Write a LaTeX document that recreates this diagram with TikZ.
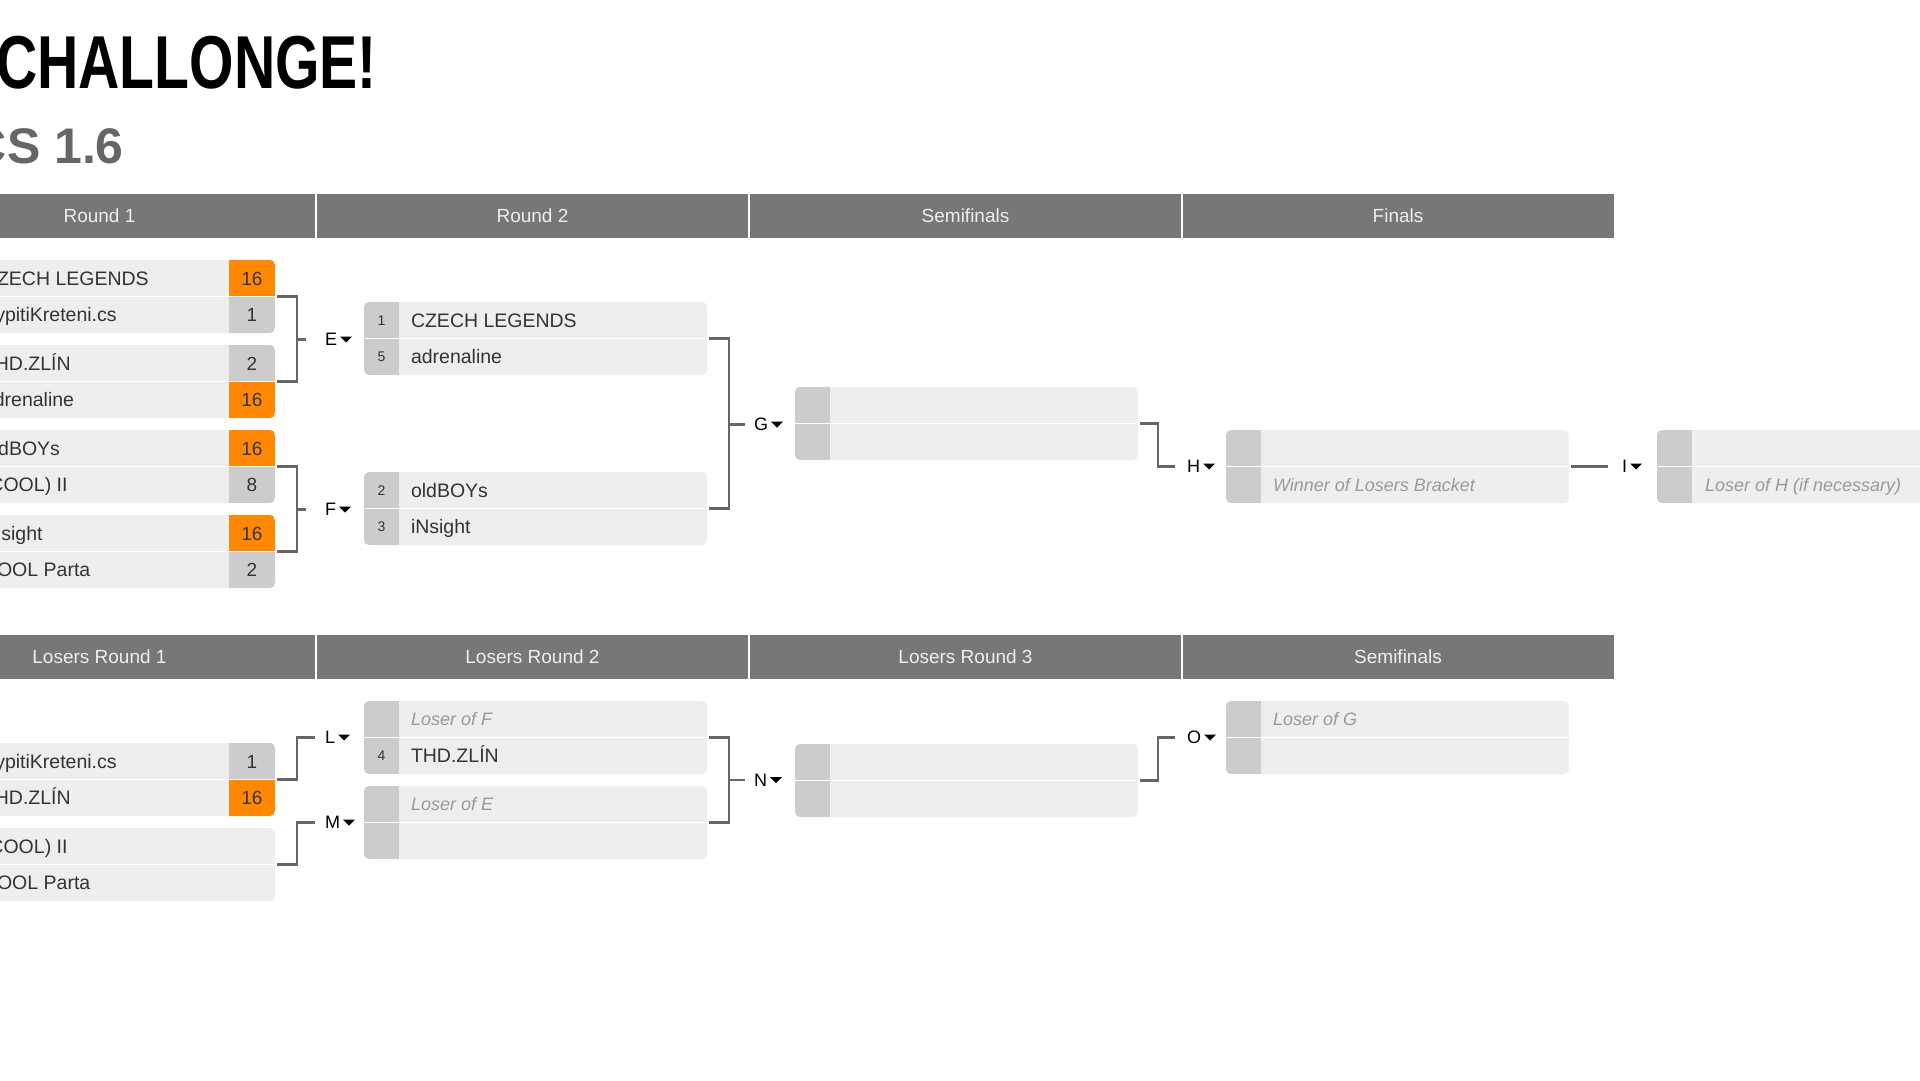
\documentclass[tikz,border=0pt]{standalone}
\usepackage{fontspec}
\setmainfont{Liberation Sans}
\definecolor{hdrgray}{HTML}{777777}
\definecolor{hdrtxt}{HTML}{EEEEEE}
\definecolor{rowbg}{HTML}{EEEEEE}
\definecolor{cellgray}{HTML}{CCCCCC}
\definecolor{win}{HTML}{FF8800}
\definecolor{conncol}{HTML}{666666}
\definecolor{txt}{HTML}{333333}
\definecolor{ghost}{HTML}{999999}
\definecolor{subt}{HTML}{666666}
\tikzset{
  every node/.style={inner sep=0pt, outer sep=0pt},
  matchbg/.style={fill=rowbg, rounded corners=5pt, minimum width=343pt, minimum height=73pt},
  hdrcell/.style={fill=hdrgray, minimum width=431pt, minimum height=44pt, text=hdrtxt, font=\fontsize{19}{19}\selectfont},
  team/.style={anchor=west, text=txt, font=\fontsize{19.5}{19.5}\selectfont, text height=14pt, text depth=0pt},
  ghosttxt/.style={anchor=west, text=ghost, font=\fontsize{18}{18}\selectfont\itshape, text height=12.9pt, text depth=0pt},
  seednum/.style={text=txt, font=\fontsize{14}{14}\selectfont, text height=10pt, text depth=0pt},
  scorenum/.style={text=txt, font=\fontsize{19}{19}\selectfont, text height=13.6pt, text depth=0pt},
  blabel/.style={anchor=west, text=black, font=\fontsize{18}{18}\selectfont, text height=12.9pt, text depth=0pt},
  conn/.style={draw=conncol, line width=2.5pt},
  sepline/.style={draw=white, line width=1.5pt},
}
% match background node: name, left x, top y
\newcommand{\MBox}[3]{\node[matchbg] (#1) at ({#2+171.5},{#3+36.5}) {};}
\newcommand{\MClip}[1]{\clip[rounded corners=5pt] (#1.south west) rectangle (#1.north east);}
\newcommand{\SeedCol}[1]{\begin{scope}\MClip{#1}\fill[cellgray] (#1.south west) rectangle ([xshift=35pt]#1.north west);\end{scope}}
\newcommand{\ScoreCol}[3]{\begin{scope}\MClip{#1}\fill[#2] ([xshift=-46pt]#1.north east) rectangle (#1.east);\fill[#3] ([xshift=-46pt]#1.east) rectangle (#1.south east);\end{scope}}
\newcommand{\Sep}[1]{\draw[sepline] (#1.west) -- (#1.east);}
\newcommand{\Tri}[1]{\fill[black] ([xshift=3pt,yshift=3pt]#1.east) -- ++(12,0) -- ++(-6,6) -- cycle;}
\begin{document}
\begin{tikzpicture}[x=1pt,y=-1pt]
\useasboundingbox (0,0) rectangle (1920,1080);
\fill[white] (0,0) rectangle (1920,1080);
\clip (0,0) rectangle (1920,1080);

% titles
\node[anchor=base west, font=\fontsize{75}{75}\selectfont\bfseries] (title) at (-4,88) {\scalebox{0.762}[1]{CHALLONGE!}};
\node[anchor=base west, text=subt, font=\fontsize{50}{50}\selectfont\bfseries] (game) at (-29,163) {CS 1.6};

% headers winners
\node[hdrcell] (hW1) at (99.5,216) {Round 1};
\node[hdrcell] (hW2) at (532.5,216) {Round 2};
\node[hdrcell] (hW3) at (965.5,216) {Semifinals};
\node[hdrcell] (hW4) at (1398,216) {Finals};
% headers losers
\node[hdrcell] (hL1) at (99.5,657) {Losers Round 1};
\node[hdrcell] (hL2) at (532.5,657) {Losers Round 2};
\node[hdrcell] (hL3) at (965.5,657) {Losers Round 3};
\node[hdrcell] (hL4) at (1398,657) {Semifinals};

% ---------- Winners round 1
\MBox{A}{-68}{260}\ScoreCol{A}{win}{cellgray}\Sep{A}
\node[team] (A1) at ([xshift=51pt,yshift=18.25pt]A.west) {CZECH LEGENDS};
\node[team] (A2) at ([xshift=51pt,yshift=-18.25pt]A.west) {VypitiKreteni.cs};
\node[scorenum] (A1s) at ([xshift=-23pt,yshift=18.25pt]A.east) {16};
\node[scorenum] (A2s) at ([xshift=-23pt,yshift=-18.25pt]A.east) {1};

\MBox{B}{-68}{345}\ScoreCol{B}{cellgray}{win}\Sep{B}
\node[team] (B1) at ([xshift=51pt,yshift=18.25pt]B.west) {THD.ZLÍN};
\node[team] (B2) at ([xshift=51pt,yshift=-18.25pt]B.west) {adrenaline};
\node[scorenum] (B1s) at ([xshift=-23pt,yshift=18.25pt]B.east) {2};
\node[scorenum] (B2s) at ([xshift=-23pt,yshift=-18.25pt]B.east) {16};

\MBox{C}{-68}{430}\ScoreCol{C}{win}{cellgray}\Sep{C}
\node[team] (C1) at ([xshift=51pt,yshift=18.25pt]C.west) {oldBOYs};
\node[team] (C2) at ([xshift=51pt,yshift=-18.25pt]C.west) {(COOL) II};
\node[scorenum] (C1s) at ([xshift=-23pt,yshift=18.25pt]C.east) {16};
\node[scorenum] (C2s) at ([xshift=-23pt,yshift=-18.25pt]C.east) {8};

\MBox{D}{-68}{515}\ScoreCol{D}{win}{cellgray}\Sep{D}
\node[team] (D1) at ([xshift=51pt,yshift=18.25pt]D.west) {iNsight};
\node[team] (D2) at ([xshift=51pt,yshift=-18.25pt]D.west) {COOL Parta};
\node[scorenum] (D1s) at ([xshift=-23pt,yshift=18.25pt]D.east) {16};
\node[scorenum] (D2s) at ([xshift=-23pt,yshift=-18.25pt]D.east) {2};

% ---------- Winners round 2
\MBox{RA}{364}{302}\SeedCol{RA}\Sep{RA}
\node[seednum] (RA1n) at ([xshift=17.5pt,yshift=18.25pt]RA.west) {1};
\node[seednum] (RA2n) at ([xshift=17.5pt,yshift=-18.25pt]RA.west) {5};
\node[team] (RA1) at ([xshift=47pt,yshift=18.25pt]RA.west) {CZECH LEGENDS};
\node[team] (RA2) at ([xshift=47pt,yshift=-18.25pt]RA.west) {adrenaline};

\MBox{RB}{364}{472}\SeedCol{RB}\Sep{RB}
\node[seednum] (RB1n) at ([xshift=17.5pt,yshift=18.25pt]RB.west) {2};
\node[seednum] (RB2n) at ([xshift=17.5pt,yshift=-18.25pt]RB.west) {3};
\node[team] (RB1) at ([xshift=47pt,yshift=18.25pt]RB.west) {oldBOYs};
\node[team] (RB2) at ([xshift=47pt,yshift=-18.25pt]RB.west) {iNsight};

% ---------- Winners semifinal, finals, grand final
\MBox{S}{795}{387}\SeedCol{S}\Sep{S}
\MBox{FI}{1226}{430}\SeedCol{FI}\Sep{FI}
\node[ghosttxt] (FI2) at ([xshift=47pt,yshift=-18.25pt]FI.west) {Winner of Losers Bracket};
\MBox{GF}{1657}{430}\SeedCol{GF}\Sep{GF}
\node[ghosttxt] (GF2) at ([xshift=48pt,yshift=-18.25pt]GF.west) {Loser of H (if necessary)};

% ---------- Losers round 1
\MBox{LA}{-68}{743}\ScoreCol{LA}{cellgray}{win}\Sep{LA}
\node[team] (LA1) at ([xshift=51pt,yshift=18.25pt]LA.west) {VypitiKreteni.cs};
\node[team] (LA2) at ([xshift=51pt,yshift=-18.25pt]LA.west) {THD.ZLÍN};
\node[scorenum] (LA1s) at ([xshift=-23pt,yshift=18.25pt]LA.east) {1};
\node[scorenum] (LA2s) at ([xshift=-23pt,yshift=-18.25pt]LA.east) {16};

\MBox{LB}{-68}{828}\Sep{LB}
\node[team] (LB1) at ([xshift=51pt,yshift=18.25pt]LB.west) {(COOL) II};
\node[team] (LB2) at ([xshift=51pt,yshift=-18.25pt]LB.west) {COOL Parta};

% ---------- Losers round 2
\MBox{LC}{364}{701}\SeedCol{LC}\Sep{LC}
\node[ghosttxt] (LC1) at ([xshift=47pt,yshift=18.25pt]LC.west) {Loser of F};
\node[seednum] (LC2n) at ([xshift=17.5pt,yshift=-18.25pt]LC.west) {4};
\node[team] (LC2) at ([xshift=47pt,yshift=-18.25pt]LC.west) {THD.ZLÍN};

\MBox{LD}{364}{786}\SeedCol{LD}\Sep{LD}
\node[ghosttxt] (LD1) at ([xshift=47pt,yshift=18.25pt]LD.west) {Loser of E};

% ---------- Losers round 3 and semifinal
\MBox{LE}{795}{744}\SeedCol{LE}\Sep{LE}
\MBox{LF}{1226}{701}\SeedCol{LF}\Sep{LF}
\node[ghosttxt] (LF1) at ([xshift=47pt,yshift=18.25pt]LF.west) {Loser of G};

% ---------- connectors and labels
\coordinate (Ek) at (297,339.5); \coordinate (Eend) at (306,339.5);
\draw[conn] ([xshift=2pt]A.east) -| (Ek) |- ([xshift=2pt]B.east);
\draw[conn] (Ek) -- (Eend);
\node[blabel] (Elab) at (325,339.5) {E}; \Tri{Elab}

\coordinate (Fk) at (297,509.5); \coordinate (Fend) at (306,509.5);
\draw[conn] ([xshift=2pt]C.east) -| (Fk) |- ([xshift=2pt]D.east);
\draw[conn] (Fk) -- (Fend);
\node[blabel] (Flab) at (325,509.5) {F}; \Tri{Flab}

\coordinate (Gk) at (729,424.5); \coordinate (Gend) at (745,424.5);
\draw[conn] ([xshift=2pt]RA.east) -| (Gk) |- ([xshift=2pt]RB.east);
\draw[conn] (Gk) -- (Gend);
\node[blabel] (Glab) at (754,424.5) {G}; \Tri{Glab}

\coordinate (Hk) at (1158,466.5); \coordinate (Hend) at (1175,466.5);
\draw[conn] ([xshift=2pt]S.east) -| (Hk) -- (Hend);
\node[blabel] (Hlab) at (1187,466.5) {H}; \Tri{Hlab}

\coordinate (Iend) at (1608,466.5);
\draw[conn] ([xshift=2pt]FI.east) -- (Iend);
\node[blabel] (Ilab) at (1622,466.5) {I}; \Tri{Ilab}

\coordinate (Lk) at (297,737.5); \coordinate (Lend) at (315,737.5);
\draw[conn] ([xshift=2pt]LA.east) -| (Lk) -- (Lend);
\node[blabel] (Llab) at (325,737.5) {L}; \Tri{Llab}

\coordinate (Mk) at (297,822.5); \coordinate (Mend) at (315,822.5);
\draw[conn] ([xshift=2pt]LB.east) -| (Mk) -- (Mend);
\node[blabel] (Mlab) at (325,822.5) {M}; \Tri{Mlab}

\coordinate (Nk) at (729,780); \coordinate (Nend) at (745,780);
\draw[conn] ([xshift=2pt]LC.east) -| (Nk) |- ([xshift=2pt]LD.east);
\draw[conn] (Nk) -- (Nend);
\node[blabel] (Nlab) at (754,780) {N}; \Tri{Nlab}

\coordinate (Ok) at (1158,737.5); \coordinate (Oend) at (1175,737.5);
\draw[conn] ([xshift=2pt]LE.east) -| (Ok) -- (Oend);
\node[blabel] (Olab) at (1187,737.5) {O}; \Tri{Olab}
\end{tikzpicture}
\end{document}
